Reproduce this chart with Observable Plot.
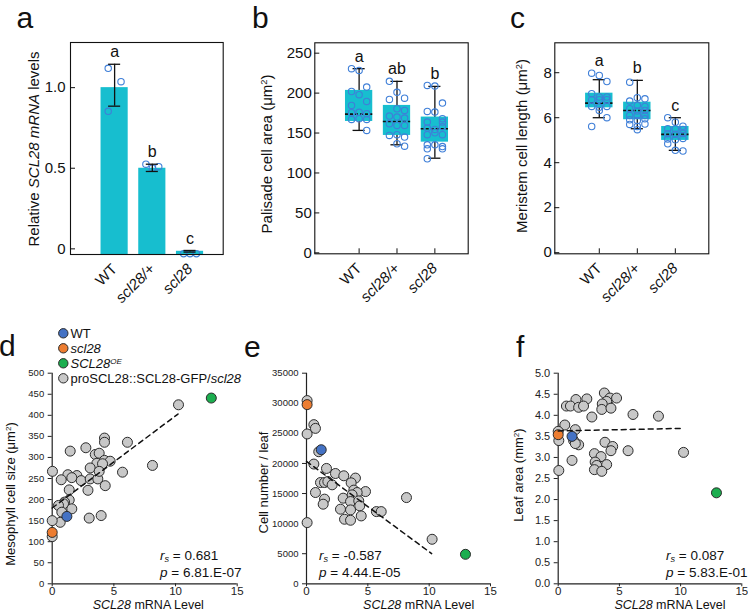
<!DOCTYPE html>
<html><head><meta charset="utf-8">
<script src="https://cdn.jsdelivr.net/npm/d3@7"></script>
<script src="https://cdn.jsdelivr.net/npm/@observablehq/plot@0.6"></script>
<style>
body{margin:0;background:#fff;}
#fig{position:relative;width:748px;height:612px;overflow:hidden;background:#fff;}
#fig svg{position:absolute;overflow:visible;}
</style></head><body><div id="fig"></div><script>
// ---------- data ----------
const genotypes = ["WT", "scl28/+", "scl28"];
// panel a: relative SCL28 mRNA
const mrnaMean = [1.0, 0.50, -0.015];
const mrnaLow = [0.885, 0.48, -0.02];
const mrnaHigh = [1.145, 0.525, -0.01];
const mrnaPts = [[[-1, 1.12], [1, 1.037], [-1, 0.853]], [[-1, 0.525], [0, 0.50], [1, 0.51]], [[-1, -0.03], [0, -0.03], [1, -0.03]]];
const lettersA = ["a", "b", "c"];
const ticksA = [0, 0.5, 1.0];
// panel b: palisade cell area (box stats: lo, q1, median, q3, hi)
const boxB = [[153.3, 164.5, 173.7, 203.4, 230.6], [135.3, 147, 164.5, 184.6, 214.7], [118.5, 138.6, 155.4, 170, 208.4]];
const ptsB = [
  [[-1, 230.6], [0, 228.4], [1, 207.5], [-1, 202], [0, 198], [1, 189.6], [-1, 184.6], [-1, 175.4], [0, 176], [1, 174.2], [0, 167.9], [-1, 167], [1, 167], [1, 153.3]],
  [[-1, 214.7], [0, 201], [1, 193.7], [-1, 192.1], [0, 180.4], [1, 178.3], [-1, 171.2], [0, 170], [1, 168.7], [-1, 161.7], [0, 159.5], [1, 159.5], [-1, 147], [0, 147.9], [1, 144.9], [0, 136.6], [1, 133.6]],
  [[-1, 209.6], [0, 208.8], [1, 187.5], [-1, 177.1], [0, 176.2], [1, 167.9], [-1, 163.7], [1, 163.7], [-1, 156.2], [0, 154.5], [1, 158], [-1, 148], [0, 150.4], [1, 147.9], [-1, 135.3], [0, 135.3], [1, 133], [-1, 130.3], [1, 130.3], [-1, 117.8]]
];
const lettersB = ["a", "ab", "b"];
const ticksB = [0, 50, 100, 150, 200, 250];
// panel c: meristem cell length
const boxC = [[6.0, 6.44, 6.65, 7.09, 7.69], [5.51, 5.91, 6.32, 6.69, 7.66], [4.55, 4.99, 5.26, 5.61, 6.0]];
const ptsC = [
  [[-1, 7.98], [0, 7.88], [1, 7.61], [-1, 7.07], [0, 6.92], [1, 6.92], [-1, 6.8], [0, 6.8], [1, 6.8], [-1, 6.5], [0, 6.47], [1, 6.5], [0, 6.32], [1, 6.0], [-1, 5.61]],
  [[-1, 7.58], [0, 6.89], [1, 6.84], [-1, 6.74], [0, 6.55], [1, 6.5], [-1, 6.4], [0, 6.3], [1, 6.32], [-1, 6.1], [0, 6.1], [1, 6.1], [-1, 5.91], [0, 5.88], [1, 5.95], [-1, 5.7], [1, 5.72], [0, 5.61], [0, 5.47]],
  [[-1, 6.0], [0, 5.8], [1, 5.62], [-1, 5.51], [0, 5.5], [1, 5.48], [-1, 5.29], [0, 5.27], [1, 5.3], [-1, 5.05], [0, 5.02], [1, 5.08], [-1, 4.84], [0, 4.55], [1, 4.52]]
];
const lettersC = ["a", "b", "c"];
const ticksC = [0, 2, 4, 6, 8];
// panels d-f: SCL28 mRNA level (x) vs traits
const ticksX = [0, 5, 10, 15];
const dGray = [[10.24, 425], [4.24, 346], [4.24, 336], [6.1, 336], [1.46, 315], [2.73, 323], [3.49, 307], [3.81, 310], [4.24, 293], [4.7, 291], [3.62, 286], [4.08, 285], [8.13, 281], [3.08, 275], [5.7, 265], [0.02, 267], [1.27, 259], [2.0, 257], [1.59, 252], [0.73, 247], [2.35, 245], [3.08, 249], [3.7, 249], [3.81, 267], [4.3, 233], [2.9, 222], [1.38, 223], [1.38, 199], [1.0, 194], [0.92, 190], [0.51, 186], [0.78, 170], [1.59, 178], [0.65, 146], [0, 150], [0, 112], [3.0, 156], [3.97, 162]];
const dWT = [1.19, 160], dKO = [0, 122], dOE = [12.9, 441];
const dFit = [[0, 180], [10.2, 403]];
const ticksD = [0, 50, 100, 150, 200, 250, 300, 350, 400, 450, 500];
const eGray = [[0.05, 30450], [0.6, 26450], [0.73, 25830], [0.05, 24900], [1.0, 21950], [0.6, 19900], [1.63, 19170], [2.36, 18330], [3.04, 17950], [3.99, 17570], [3.64, 16780], [1.14, 16830], [1.47, 16830], [1.74, 17000], [2.09, 16450], [0.73, 15170], [1.47, 14070], [1.36, 13230], [0.05, 10170], [3.86, 15570], [4.81, 15330], [4.13, 15170], [2.99, 14230], [3.72, 14780], [3.59, 13670], [4.26, 13780], [4.34, 12950], [2.77, 12400], [3.59, 12280], [4.46, 11280], [3.1, 10730], [3.59, 10560], [5.7, 12000], [6.09, 12000], [8.15, 14330], [10.24, 7400]];
const eWT = [1.2, 22280], eKO = [0.05, 29780], eOE = [12.96, 4900];
const eFit = [[0, 20350], [10.2, 5020]];
const ticksE = [0, 5000, 10000, 15000, 20000, 25000, 30000, 35000];
const fGray = [[3.77, 4.53], [1.45, 4.375], [2.34, 4.39], [0.67, 4.22], [1.0, 4.22], [1.67, 4.19], [2.07, 4.22], [4.23, 4.41], [4.77, 4.41], [3.96, 4.33], [3.6, 4.27], [3.56, 4.14], [4.31, 4.17], [2.75, 3.96], [6.11, 4.02], [8.19, 3.98], [0.54, 3.77], [0, 3.62], [0.05, 3.40], [1.4, 3.66], [1.26, 3.40], [1.67, 3.30], [1.4, 3.33], [3.82, 3.36], [4.45, 3.26], [4.31, 3.16], [5.71, 3.16], [10.24, 3.12], [2.96, 3.09], [3.5, 3.02], [1.13, 2.93], [3.02, 2.89], [3.15, 2.81], [3.96, 2.83], [2.96, 2.71], [3.56, 2.67], [0.05, 2.69]];
const fWT = [1.13, 3.5], fKO = [0, 3.54], fOE = [12.93, 2.16];
const fFit = [[0, 3.63], [10.2, 3.69]];
const ticksF = [0, 0.5, 1.0, 1.5, 2.0, 2.5, 3.0, 3.5, 4.0, 4.5, 5.0];
const statRs = ["0.681", "-0.587", "0.087"];
const statP = ["6.81.E-07", "4.44.E-05", "5.83.E-01"];

// ---------- styles ----------
const FONT = '"Liberation Sans", Arial, Helvetica, sans-serif';
const CYAN = "#17becf", PBLUE = "#3f7fd8", INK = "#111";
const GRAY = "#c8c8c8", BLUE = "#4472c4", ORANGE = "#ed7d31", GREEN = "#1cae4f", EDGE = "#2b2b2b";
const X_DOMAIN = [-0.17, 3.88];
const HALF = 0.36, CAP = 0.16, JIT = 0.2;
const fig = document.getElementById("fig");

function place(svg, left, top) {
  svg.style.left = left + "px"; svg.style.top = top + "px";
  svg.style.background = "transparent";
  svg.style.overflow = "visible";
  fig.appendChild(svg);
  return svg;
}
function italicTicks(svg) {
  d3.select(svg).selectAll("g[aria-label='x-axis tick label'] text").each(function () {
    if (this.textContent.startsWith("scl")) this.setAttribute("font-style", "italic");
  });
}
function flatPts(groups) {
  return groups.flatMap((g, gi) => g.map(([c, v]) => ({g: gi + 1, c, v})));
}
function topAxes(yTicks, yFmt, pad, xTickSize) {
  return [
    Plot.frame({stroke: INK, strokeWidth: 1.1}),
    Plot.axisY({ticks: yTicks, tickFormat: yFmt, tickSize: -5, tickPadding: pad, fontSize: 15, label: null}),
    Plot.axisX({ticks: [1, 2, 3], tickFormat: i => genotypes[i - 1], tickSize: xTickSize, tickPadding: 12 - xTickSize, tickRotate: -45, fontSize: 15, label: null})
  ];
}
const topStyle = {background: "transparent", fontFamily: FONT, color: INK, overflow: "visible"};

// ---------- panel a ----------
const aRows = genotypes.map((g, i) => ({i: i + 1, mean: mrnaMean[i], lo: mrnaLow[i], hi: mrnaHigh[i],
  top: Math.max(mrnaHigh[i], ...mrnaPts[i].map(p => p[1])), letter: lettersA[i]}));
const yA = [-0.035, 1.28];
const pa = Plot.plot({
  width: 245, height: 300, marginLeft: 70, marginRight: 22.3, marginTop: 42, marginBottom: 46,
  style: topStyle, x: {domain: X_DOMAIN, axis: null}, y: {domain: yA, axis: null},
  marks: [
    Plot.rectY(aRows, {x1: d => d.i - HALF, x2: d => d.i + HALF, y1: yA[0], y2: "mean", fill: CYAN}),
    Plot.dot(flatPts(mrnaPts), {x: d => d.g + d.c * 0.17, y: "v", r: 3.2, stroke: PBLUE, strokeWidth: 1.1}),
    Plot.ruleX(aRows, {x: "i", y1: "lo", y2: "hi", stroke: INK, strokeWidth: 1.3}),
    Plot.ruleY(aRows, {y: "lo", x1: d => d.i - CAP, x2: d => d.i + CAP, stroke: INK, strokeWidth: 1.3}),
    Plot.ruleY(aRows, {y: "hi", x1: d => d.i - CAP, x2: d => d.i + CAP, stroke: INK, strokeWidth: 1.3}),
    Plot.text(aRows, {x: "i", y: "top", text: "letter", dy: -12, fontSize: 16}),
    ...topAxes(ticksA, d => d === 0 ? "0" : d.toFixed(1), 10, 0)
  ]
});
italicTicks(pa); place(pa, 0, 0);

// ---------- box panels ----------
function boxPanel(box, pts, letters, yDomain, yTicks, left, width, ml, mr) {
  const rows = box.map((b, i) => ({i: i + 1, lo: b[0], q1: b[1], med: b[2], q3: b[3], hi: b[4],
    top: Math.max(b[4], ...pts[i].map(p => p[1])), letter: letters[i]}));
  const svg = Plot.plot({
    width, height: 300, marginLeft: ml, marginRight: mr, marginTop: 42.3, marginBottom: 46.7,
    style: topStyle, x: {domain: X_DOMAIN, axis: null}, y: {domain: yDomain, axis: null},
    marks: [
      Plot.ruleX(rows, {x: "i", y1: "lo", y2: "hi", stroke: INK, strokeWidth: 1.3}),
      Plot.ruleY(rows, {y: "lo", x1: d => d.i - CAP, x2: d => d.i + CAP, stroke: INK, strokeWidth: 1.3}),
      Plot.ruleY(rows, {y: "hi", x1: d => d.i - CAP, x2: d => d.i + CAP, stroke: INK, strokeWidth: 1.3}),
      Plot.rect(rows, {x1: d => d.i - HALF, x2: d => d.i + HALF, y1: "q1", y2: "q3", fill: CYAN}),
      Plot.ruleY(rows, {y: "med", x1: d => d.i - HALF, x2: d => d.i + HALF, stroke: INK, strokeWidth: 1.6, strokeDasharray: "3,2"}),
      Plot.dot(flatPts(pts), {x: d => d.g + d.c * JIT, y: "v", r: 3.2, stroke: PBLUE, strokeWidth: 1.1}),
      Plot.text(rows, {x: "i", y: "top", text: "letter", dy: -12, fontSize: 16}),
      ...topAxes(yTicks, d => String(d), 8, -5)
    ]
  });
  italicTicks(svg); place(svg, left, 0);
}
boxPanel(boxB, ptsB, lettersB, [-1.2, 263], ticksB, 245, 245, 69.3, 22.3);
boxPanel(boxC, ptsC, lettersC, [-0.05, 9.33], ticksC, 490, 258, 64.3, 39.7);

// ---------- scatter panels ----------
function scatterPanel(gray, wt, ko, oe, fit, yDomain, yTicks, yFmt, yFont, left, width, ml, mr) {
  const dotOpt = (fill) => ({x: d => d[0], y: d => d[1], r: 5, fill, stroke: EDGE, strokeWidth: 1});
  const svg = Plot.plot({
    width, height: 312, marginLeft: ml, marginRight: mr, marginTop: 72.7, marginBottom: 28.7,
    style: {background: "transparent", fontFamily: FONT, color: "#222", overflow: "visible"},
    x: {domain: [0, 15], axis: null}, y: {domain: yDomain, axis: null},
    marks: [
      Plot.axisY({ticks: yTicks, tickFormat: yFmt, tickSize: 4, tickPadding: 4, fontSize: yFont, label: null}),
      Plot.axisX({ticks: ticksX, tickSize: 3, tickPadding: 0, fontSize: 11.5, label: null}),
      Plot.ruleX([ticksX[0]], {stroke: "#222", strokeWidth: 1.2}),
      Plot.ruleY([yDomain[0]], {stroke: "#222", strokeWidth: 1.2}),
      Plot.dot(gray, dotOpt(GRAY)),
      Plot.dot([oe], dotOpt(GREEN)),
      Plot.dot([wt], dotOpt(BLUE)),
      Plot.dot([ko], dotOpt(ORANGE)),
      Plot.line(fit, {x: d => d[0], y: d => d[1], stroke: INK, strokeWidth: 1.5, strokeDasharray: "5,4"})
    ]
  });
  place(svg, left, 300);
}
scatterPanel(dGray, dWT, dKO, dOE, dFit, [0, 500], ticksD, d => String(d), 9.5, 0, 245, 51.7, 8.3);
scatterPanel(eGray, eWT, eKO, eOE, eFit, [0, 35000], ticksE, d => String(d), 9.5, 245, 255, 61, 10);
scatterPanel(fGray, fWT, fKO, fOE, fFit, [0, 5], ticksF, d => d.toFixed(1), 11, 490, 256, 67.7, 4.7);

// ---------- overlay text (panel letters, axis titles, stats, legend) ----------
const ov = d3.create("svg").attr("width", 748).attr("height", 612)
  .attr("font-family", FONT).attr("fill", INK).style("left", "0px").style("top", "0px");
function rich(x, y, parts, {size = 15, anchor = "start", rotate = 0} = {}) {
  const t = ov.append("text").attr("transform", `translate(${x},${y}) rotate(${rotate})`)
    .attr("text-anchor", anchor).attr("font-size", size);
  for (const p of parts) {
    const s = t.append("tspan").text(p.t);
    if (p.i) s.attr("font-style", "italic");
    if (p.sup) s.attr("baseline-shift", "super").attr("font-size", size * 0.62);
    if (p.sub) s.attr("baseline-shift", "-18%").attr("font-size", size * 0.68);
  }
}
[["a", 16.5, 28], ["b", 252, 28], ["c", 510, 28], ["d", -1, 356], ["e", 244, 356.7], ["f", 516, 357]]
  .forEach(([t, x, y]) => rich(x, y, [{t}], {size: 30}));
const um2 = (s) => [{t: s + " (μm"}, {t: "2", sup: 1}, {t: ")"}];
rich(38.5, 149, [{t: "Relative "}, {t: "SCL28 mRNA", i: 1}, {t: " levels"}], {anchor: "middle", rotate: -90});
rich(272, 154, um2("Palisade cell area"), {anchor: "middle", rotate: -90});
rich(527, 146, um2("Meristem cell length"), {anchor: "middle", rotate: -90});
rich(14.5, 494, um2("Mesophyll cell size"), {size: 13, anchor: "middle", rotate: -90});
rich(268, 482.5, [{t: "Cell number / leaf"}], {size: 13, anchor: "middle", rotate: -90});
rich(523, 475, [{t: "Leaf area (mm"}, {t: "2", sup: 1}, {t: ")"}], {size: 13, anchor: "middle", rotate: -90});
[148.3, 418.7, 670].forEach(x => rich(x, 609, [{t: "SCL28", i: 1}, {t: " mRNA Level"}], {size: 12.5, anchor: "middle"}));
[160, 319, 666].forEach((x, k) => {
  rich(x, 559.5, [{t: "r", i: 1}, {t: "s", i: 1, sub: 1}, {t: " = " + statRs[k]}], {size: 13.5});
  rich(x, 577, [{t: "p", i: 1}, {t: " = " + statP[k]}], {size: 13.5});
});
const legend = [
  {fill: BLUE, parts: [{t: "WT"}]},
  {fill: ORANGE, parts: [{t: "scl28", i: 1}]},
  {fill: GREEN, parts: [{t: "SCL28", i: 1}, {t: "OE", i: 1, sup: 1}]},
  {fill: GRAY, parts: [{t: "proSCL28::SCL28-GFP/"}, {t: "scl28", i: 1}]}
];
legend.forEach((e, k) => {
  const cy = 333.3 + 15 * k;
  ov.append("circle").attr("cx", 63.3).attr("cy", cy).attr("r", 4.7).attr("fill", e.fill).attr("stroke", EDGE);
  rich(70.5, cy + 4.6, e.parts, {size: 13});
});
fig.appendChild(ov.node());
</script></body></html>
